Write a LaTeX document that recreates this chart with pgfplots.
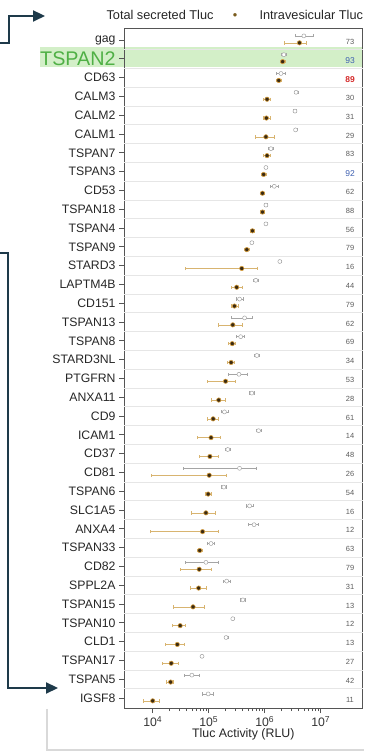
\documentclass[border=0pt]{standalone}
\usepackage{pgfplots}
\pgfplotsset{compat=1.18}
\usepackage{pgfplotstable}
\usepackage{fontspec}
\setmainfont{Liberation Sans}
\usetikzlibrary{arrows.meta}
\definecolor{hollowgray}{HTML}{A5A5A5}
\definecolor{filldark}{HTML}{3A2A12}
\definecolor{fillring}{HTML}{D9A040}
\definecolor{errtan}{HTML}{D8B470}
\definecolor{numgray}{HTML}{5A5A5A}
\definecolor{numblue}{HTML}{3D5FB0}
\definecolor{numred}{HTML}{D42A2A}
\definecolor{tspgreen}{HTML}{4FB045}
\definecolor{bandgreen}{HTML}{D3EFC8}
\definecolor{arrowc}{HTML}{1E3A4A}
\definecolor{legdot}{HTML}{7A5C1E}
\definecolor{axgray}{HTML}{555555}
\definecolor{gridgray}{HTML}{E6E6E6}

% y: row (0 = top), H = total secreted, F = intravesicular (RLU), with lower/upper ends of error bars
\pgfplotstableread{
y H Hlo Hhi F Flo Fhi
0 5.0e6 3.47e6 7.24e6 4.17e6 2.24e6 5.62e6
1 2.19e6 2.0e6 2.4e6 2.09e6 1.86e6 2.34e6
2 1.95e6 1.62e6 2.29e6 1.78e6 1.58e6 2.0e6
3 3.63e6 3.39e6 3.89e6 1.10e6 9.55e5 1.26e6
4 3.47e6 3.24e6 3.72e6 1.07e6 9.33e5 1.23e6
5 3.55e6 3.31e6 3.8e6 1.05e6 6.76e5 1.48e6
6 1.29e6 1.17e6 1.41e6 1.10e6 9.55e5 1.23e6
7 1.05e6 9.77e5 1.12e6 9.55e5 8.71e5 1.05e6
8 1.48e6 1.23e6 1.74e6 9.12e5 8.32e5 1.0e6
9 1.05e6 9.77e5 1.12e6 9.12e5 8.32e5 1.0e6
10 1.05e6 9.77e5 1.12e6 6.03e5 5.5e5 6.61e5
11 5.89e5 5.5e5 6.31e5 4.79e5 4.37e5 5.25e5
12 1.86e6 1.74e6 2.0e6 3.89e5 3.89e4 7.5e5
13 6.92e5 6.31e5 7.59e5 3.16e5 2.51e5 3.89e5
14 3.55e5 3.09e5 4.07e5 2.88e5 2.51e5 3.31e5
15 4.37e5 2.51e5 6.03e5 2.69e5 1.45e5 3.98e5
16 3.72e5 3.16e5 4.27e5 2.63e5 2.24e5 3.02e5
17 7.24e5 6.61e5 7.94e5 2.51e5 2.14e5 2.88e5
18 3.47e5 2.24e5 4.79e5 2.0e5 9.33e4 2.95e5
19 5.89e5 5.25e5 6.61e5 1.51e5 1.12e5 1.95e5
20 1.91e5 1.66e5 2.19e5 1.20e5 9.33e4 1.51e5
21 7.76e5 6.92e5 8.71e5 1.10e5 6.31e4 1.58e5
22 2.19e5 2.0e5 2.4e5 1.05e5 6.76e4 1.48e5
23 3.55e5 3.47e4 6.92e5 1.02e5 9.55e3 2.09e5
24 1.86e5 1.66e5 2.09e5 9.77e4 8.71e4 1.10e5
25 5.37e5 4.68e5 6.17e5 8.91e4 4.79e4 1.29e5
26 6.46e5 5.01e5 7.76e5 7.76e4 8.91e3 1.51e5
27 1.10e5 9.33e4 1.26e5 6.92e4 6.17e4 7.76e4
28 8.91e4 3.8e4 1.45e5 6.76e4 3.09e4 1.10e5
29 2.09e5 1.82e5 2.4e5 6.61e4 4.68e4 8.91e4
30 4.07e5 3.63e5 4.57e5 5.25e4 2.29e4 8.32e4
31 2.69e5 2.57e5 2.82e5 3.09e4 2.19e4 3.89e4
32 2.04e5 1.91e5 2.19e5 2.75e4 1.70e4 3.63e4
33 7.59e4 7.08e4 8.13e4 2.14e4 1.48e4 2.88e4
34 5.01e4 3.72e4 6.76e4 2.09e4 1.78e4 2.34e4
35 9.77e4 7.76e4 1.20e5 1.0e4 6.76e3 1.32e4
}\data

\pgfplotstableread{
y n
0 73
3 30
4 31
5 29
6 83
8 62
9 88
10 56
11 79
12 16
13 44
14 79
15 62
16 69
17 34
18 53
19 28
20 61
21 14
22 48
23 26
24 54
25 16
26 12
27 63
28 79
29 31
30 13
31 12
32 13
33 27
34 42
35 11
}\numsgray
\pgfplotstableread{
y n
1 93
7 92
}\numsblue
\pgfplotstableread{
y n
2 89
}\numsred

\begin{document}
\begin{tikzpicture}[x=1bp,y=1bp]
\path[use as bounding box] (0,0) rectangle (364,753);
% highlight band for TSPAN2
\fill[bandgreen] (40,685.5) rectangle (362.5,705.5);
% faint panel frame
\draw[gray!30, line width=1.2bp] (47,44) -- (47,3) -- (364,3);
\begin{axis}[
  at={(124bp,725bp)}, anchor=north west,
  scale only axis, width=238.5bp, height=680bp,
  xmode=log, xmin=3073, xmax=5.57e7,
  ymin=-0.64, ymax=35.53, y dir=reverse,
  axis line style={draw=axgray, line width=0.8bp},
  tick align=outside,
  xtick pos=bottom, ytick pos=left,
  xtick={1e4,1e5,1e6,1e7},
  xticklabels={10\textsuperscript{4},10\textsuperscript{5},10\textsuperscript{6},10\textsuperscript{7}},
  major tick length=5bp, minor tick length=3bp,
  tick style={draw=axgray, line width=0.7bp},
  xticklabel style={font=\fontsize{12.3}{14}\selectfont, text=black!80},
  ytick={0,...,35},
  yticklabels={gag,{\fontsize{19.8}{20}\selectfont\color{tspgreen}TSPAN2},CD63,CALM3,CALM2,CALM1,TSPAN7,TSPAN3,CD53,TSPAN18,TSPAN4,TSPAN9,STARD3,LAPTM4B,CD151,TSPAN13,TSPAN8,STARD3NL,PTGFRN,ANXA11,CD9,ICAM1,CD37,CD81,TSPAN6,SLC1A5,ANXA4,TSPAN33,CD82,SPPL2A,TSPAN15,TSPAN10,CLD1,TSPAN17,TSPAN5,IGSF8},
  yticklabel style={font=\fontsize{12.3}{14}\selectfont, text=black!85},
  y tick style={line width=0.8bp},
  extra y ticks={0.5,1.5,...,34.5},
  extra y tick labels={},
  extra y tick style={grid=major, major tick length=0pt, major grid style={draw=gridgray, line width=0.6bp}},
  clip=false,
]
% total secreted (hollow)
\addplot[only marks, mark=*, mark size=2.0bp,
  mark options={fill=white, draw=hollowgray, line width=0.5bp},
  error bars/.cd, x dir=both, x explicit,
  error bar style={draw=hollowgray, line width=0.45bp},
  error mark options={draw=hollowgray, mark size=1.6bp, line width=0.45bp, rotate=90}]
  table[x=H, y expr=\thisrow{y}-0.22,
        x error minus expr=\thisrow{H}-\thisrow{Hlo},
        x error plus expr=\thisrow{Hhi}-\thisrow{H}] {\data};
% intravesicular (filled)
\addplot[only marks, mark=*, mark size=2.2bp,
  mark options={fill=filldark, draw=fillring, line width=0.6bp},
  error bars/.cd, x dir=both, x explicit,
  error bar style={draw=errtan, line width=0.6bp},
  error mark options={draw=errtan, mark size=1.7bp, line width=0.5bp, rotate=90}]
  table[x=F, y expr=\thisrow{y}+0.15,
        x error minus expr=\thisrow{F}-\thisrow{Flo},
        x error plus expr=\thisrow{Fhi}-\thisrow{F}] {\data};
% numbers column
\addplot[draw=none, mark=none, nodes near coords, point meta=explicit symbolic,
  nodes near coords align=center,
  every node near coord/.append style={font=\fontsize{7.5}{9}\selectfont, text=numgray, anchor=center}]
  table[x expr=3.33e7, y expr=\thisrow{y}+0.08, meta=n] {\numsgray};
\addplot[draw=none, mark=none, nodes near coords, point meta=explicit symbolic,
  nodes near coords align=center,
  every node near coord/.append style={font=\fontsize{8.5}{9}\selectfont, text=numblue, anchor=center}]
  table[x expr=3.33e7, y expr=\thisrow{y}+0.08, meta=n] {\numsblue};
\addplot[draw=none, mark=none, nodes near coords, point meta=explicit symbolic,
  nodes near coords align=center,
  every node near coord/.append style={font=\bfseries\fontsize{8.5}{9}\selectfont, text=numred, anchor=center}]
  table[x expr=3.33e7, y expr=\thisrow{y}+0.08, meta=n] {\numsred};
\end{axis}
% x axis title
\node[font=\fontsize{12.4}{14}\selectfont, anchor=base, text=black!85] at (243.3,15) {Tluc Activity (RLU)};
% legend
\node[font=\fontsize{12.8}{14}\selectfont, anchor=base west, text=black!85] at (103,733) {Total secreted Tluc};
\node[font=\fontsize{12.8}{14}\selectfont, anchor=base, text=legdot] at (235,733) {•};
\node[font=\fontsize{12.8}{14}\selectfont, anchor=base west, text=black!85] at (256,733) {Intravesicular Tluc};
% arrows
\draw[arrowc, line width=2.2bp, -{Triangle[length=12bp,width=11bp]}] (0,710) -- (9,710) -- (9,737) -- (45,737);
\draw[arrowc, line width=2.2bp, -{Triangle[length=12bp,width=11bp]}] (0,500) -- (8,500) -- (8,65) -- (58,65);
\end{tikzpicture}
\end{document}
